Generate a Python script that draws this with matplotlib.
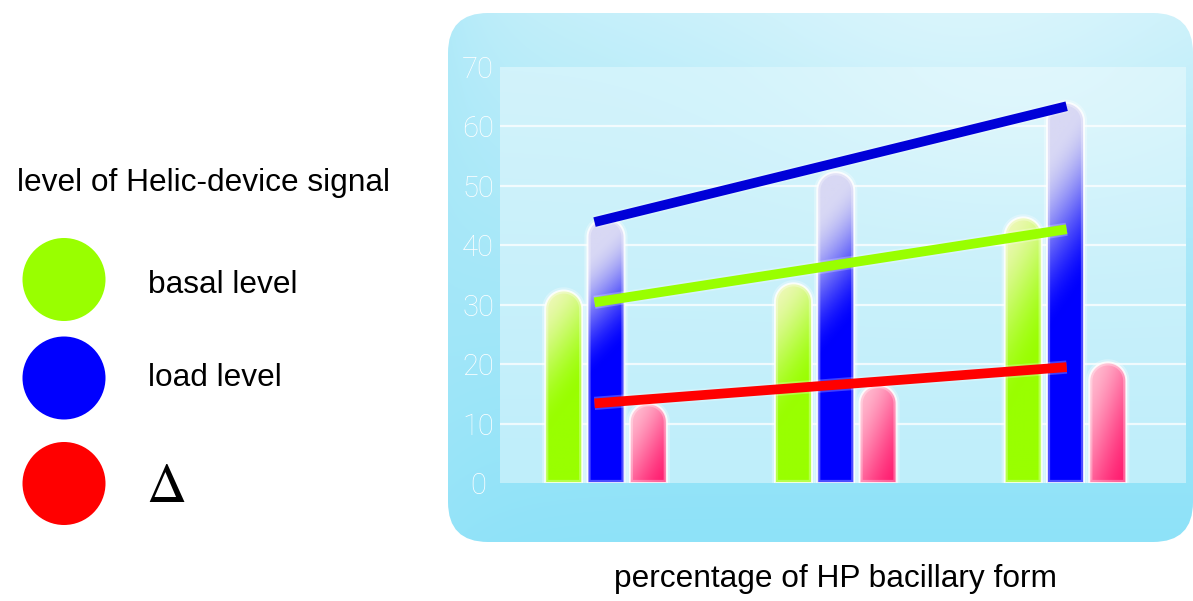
import numpy as np
import matplotlib
matplotlib.use("Agg")
import matplotlib.pyplot as plt
from matplotlib.patches import FancyBboxPatch, Circle, PathPatch
from matplotlib.path import Path
from matplotlib.colors import to_rgb
import matplotlib.patheffects as pe

# ---------------- data ----------------
basal = [32.4, 33.6, 44.7]
load = [44.5, 52.3, 64.0]
delta = [13.4, 16.5, 20.3]

basal_trend = [30.4, 42.7]
load_trend = [43.9, 63.4]
delta_trend = [13.4, 19.5]

y_ticks = [0, 10, 20, 30, 40, 50, 60, 70]
series_labels = ["basal level", "load level", r"$\Delta$"]
legend_title = "level of Helic-device signal"
x_label = "percentage of HP bacillary form"

# ---------------- styling ----------------
GREEN = "#99ff00"
BLUE = "#0000ff"
RED = "#ff0000"
PINK = "#ff1a6e"
LINE_BLUE = "#0000d8"

W, H, DPI = 1193, 601, 100
fig = plt.figure(figsize=(W / DPI, H / DPI), dpi=DPI)
fig.patch.set_facecolor("white")

# full-figure canvas in pixel units for the panel and the legend
bg = fig.add_axes([0, 0, 1, 1])
bg.set_xlim(0, W)
bg.set_ylim(H, 0)
bg.axis("off")


def mix(c1, c2, t):
    c1 = np.array(to_rgb(c1))
    c2 = np.array(to_rgb(c2))
    t = np.asarray(t)[..., None]
    return c1 * (1 - t) + c2 * t


def smooth(x):
    x = np.clip(x, 0, 1)
    return x * x * (3 - 2 * x)


# rounded panel with a soft cyan gradient
px0, px1, py0, py1 = 448, 1193, 13, 542
v, u = np.mgrid[0:1:200j, 0:1:300j]
panel = mix("#c4effa", "#8ee2f8", v ** 0.85)
edge = 0.55 * np.exp(-u / 0.08) * (1 - 0.5 * v)
panel = panel * (1 - edge[..., None]) + np.array(to_rgb("#a2e6f8")) * edge[..., None]
hl = np.exp(-(((u - 0.7) / 0.35) ** 2 + ((v - 0.02) / 0.25) ** 2)) * 0.35
panel = panel * (1 - hl[..., None]) + hl[..., None]
panel_box = FancyBboxPatch((px0, py0), px1 - px0, py1 - py0,
                           boxstyle="round,pad=0,rounding_size=40",
                           facecolor="none", edgecolor="none",
                           transform=bg.transData)
bg.add_patch(panel_box)
im = bg.imshow(panel, extent=[px0, px1, py1, py0], origin="upper",
               interpolation="bilinear", aspect="auto", zorder=0)
im.set_clip_path(panel_box)

# legend on the left
bg.text(17, 191, legend_title, fontsize=22.8, family="Liberation Sans",
        ha="left", va="baseline", color="black")
legend_colors = [GREEN, BLUE, RED]
legend_y = [279.5, 378, 483.5]
text_base = [293, 386, 502]
for col, cy, lab, tb in zip(legend_colors, legend_y, series_labels, text_base):
    bg.add_patch(Circle((64, cy), 41.5, facecolor=col, edgecolor="none"))
    if lab.startswith("$"):
        bg.text(146, tb, lab, fontsize=40, math_fontfamily="stix",
                ha="left", va="baseline", color="black")
    else:
        bg.text(148, tb, lab, fontsize=22.8, family="Liberation Sans",
                ha="left", va="baseline", color="black")

bg.text(835.5, 587, x_label, fontsize=22.8, family="Liberation Sans",
        ha="center", va="baseline", color="black")

# ---------------- main plot area ----------------
ax_l, ax_r, ax_t, ax_b = 500, 1186, 67, 483
ax = fig.add_axes([ax_l / W, 1 - ax_b / H, (ax_r - ax_l) / W, (ax_b - ax_t) / H])
ax.patch.set_visible(False)
for s in ax.spines.values():
    s.set_visible(False)

n_groups = len(basal)
centers = np.arange(n_groups)
px_per_x = 229.75
xlim = ((ax_l - 606) / px_per_x, (ax_r - 606) / px_per_x)
ylim = (0, 70)
px_per_y = (ax_b - ax_t) / (ylim[1] - ylim[0])

# lighter inner field
iv, iu = np.mgrid[0:1:200j, 0:1:300j]  # iv: 0 bottom -> 1 top
inner = mix("#bfeefa", "#d2f3fb", iv)
ihl = np.exp(-(((iu - 0.75) / 0.35) ** 2 + ((iv - 1.0) / 0.35) ** 2)) * 0.3
inner = inner * (1 - ihl[..., None]) + ihl[..., None]
ax.imshow(inner, extent=[xlim[0], xlim[1], ylim[0], ylim[1]], origin="lower",
          aspect="auto", interpolation="bilinear", zorder=0)

# white grid lines
for yv in y_ticks[1:-1]:
    ax.axhline(yv, color="white", lw=1.6, alpha=0.75, zorder=1)

bar_w = 37 / px_per_x
pitch = 42.3 / px_per_x


def rounded_bar(x0, w, h):
    rx = w / 2
    ry = (w / 2) * px_per_x / px_per_y
    xc = x0 + rx
    theta = np.linspace(np.pi, 0, 40)
    verts = [(x0, 0), (x0, h - ry)]
    verts += [(xc + rx * np.cos(t), h - ry + ry * np.sin(t)) for t in theta]
    verts += [(x0 + w, 0), (x0, 0)]
    codes = [Path.MOVETO] + [Path.LINETO] * (len(verts) - 2) + [Path.CLOSEPOLY]
    return Path(verts, codes)


# gradient recipes: base colour, pale top colour, fade start, fade end, diagonal weight
recipes = {
    "basal": (GREEN, "#eef8b8", 0.40, 1.00, 0.20),
    "load": (BLUE, "#d8d8f4", 0.46, 0.88, 0.12),
    "delta": (PINK, "#ffbcd0", -0.05, 1.00, 0.45),
}


def bar_image(kind):
    base, top, t0, t1, diag = recipes[kind]
    t, s = np.mgrid[0:1:160j, 0:1:40j]
    uu = t * (1 - diag) + (1 - s) * diag
    w = smooth((uu - t0) / (t1 - t0))
    return mix(base, top, w)


series = [("basal", basal), ("load", load), ("delta", delta)]
for k, (kind, vals) in enumerate(series):
    for g, val in zip(centers, vals):
        x0 = g + (k - 1) * pitch - bar_w / 2
        path = rounded_bar(x0, bar_w, val)
        clip = PathPatch(path, facecolor="none", edgecolor="none", transform=ax.transData)
        ax.add_patch(clip)
        img = ax.imshow(bar_image(kind), extent=[x0, x0 + bar_w, 0, val], origin="lower",
                        aspect="auto", interpolation="bilinear", zorder=2)
        img.set_clip_path(clip)
        outline = PathPatch(path, facecolor="none", edgecolor="white", lw=1.4,
                            alpha=0.85, zorder=2.1, transform=ax.transData)
        outline.set_path_effects([pe.Stroke(linewidth=4.5, foreground="white", alpha=0.3),
                                  pe.Normal()])
        ax.add_patch(outline)

# trend lines across the three groups
trend_x = [centers[0] - 0.05, centers[-1] + 0.005]
glow = [pe.Stroke(linewidth=9.5, foreground="white", alpha=0.25),
        pe.Normal()]
for vals, col in [(load_trend, LINE_BLUE), (basal_trend, GREEN), (delta_trend, RED)]:
    ax.plot(trend_x, vals, color=col, lw=7.0, solid_capstyle="butt", zorder=3,
            path_effects=glow)

ax.set_xlim(*xlim)
ax.set_ylim(*ylim)
ax.set_xticks([])
ax.set_yticks(y_ticks)
ax.set_yticklabels([str(v) for v in y_ticks], color="white", fontsize=21,
                   family="Roboto", fontweight="light")
ax.tick_params(axis="y", length=0, pad=22 * 72 / DPI)
for lab in ax.get_yticklabels():
    lab.set_ha("center")

fig.savefig("out.png", dpi=DPI)
